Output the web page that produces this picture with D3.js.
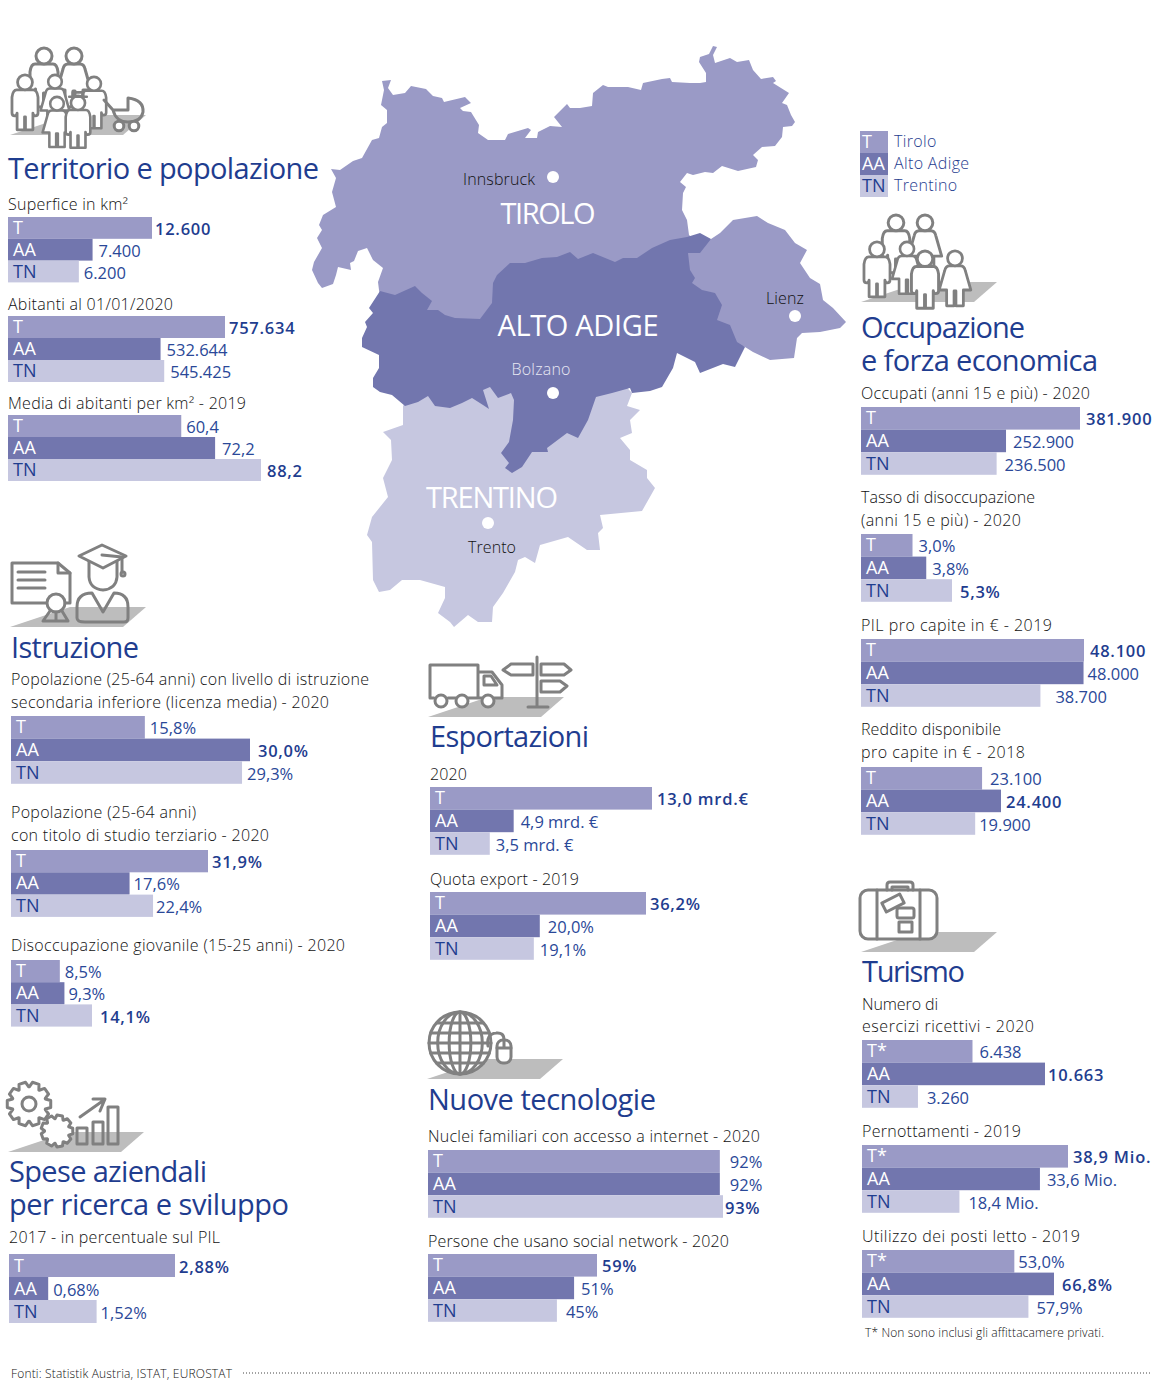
<!DOCTYPE html>
<html>
<head>
<meta charset="utf-8">
<script src="https://d3js.org/d3.v7.min.js"></script>
<style>
  html, body { margin: 0; background: #fff; }
  text { font-family: "Open Sans", sans-serif; }
  .head { font-size: 29px; font-weight: 500; fill: #1f3d8f; }
  .sub { font-size: 16px; font-weight: 300; fill: #111; }
  .val { font-size: 16.5px; font-weight: 400; fill: #2a4898; }
  .val.top { font-weight: 600; fill: #1f3d8f; letter-spacing: 0.75px; }
  .cat { font-size: 18px; font-weight: 400; }
  .small { font-size: 12px; font-weight: 300; fill: #111; }
  .mapbig { font-size: 29px; font-weight: 400; fill: #fff; text-anchor: middle; }
  .mapcity { font-size: 16px; font-weight: 300; fill: #111; text-anchor: middle; }
  .icon * { fill: none; stroke: #808080; stroke-width: 3; stroke-linejoin: round; stroke-linecap: round; }
  .icon .solid { fill: #fff; }
</style>
</head>
<body>
<svg id="chart" width="1170" height="1384"></svg>
<script>
"use strict";

var regions = ["T", "AA", "TN"];
var regionsStar = ["T*", "AA", "TN"];
var regionNames = ["Tirolo", "Alto Adige", "Trentino"];
var regionColors = ["#9a9ac6", "#7276ae", "#c6c7e0"];
var catColors = ["#fff", "#fff", "#1f3d8f"];

// bar values. In the licenza, terziario, quota and reddito
// panels the picture's bars do not match the printed figures, so they differ from the labels
var superficeValues = [12600, 7400, 6200];
var superficeLabels = ["12.600", "7.400", "6.200"];
var abitantiValues = [757634, 532644, 545425];
var abitantiLabels = ["757.634", "532.644", "545.425"];
var densitaValues = [60.4, 72.2, 88.2];
var densitaLabels = ["60,4", "72,2", "88,2"];
var licenzaValues = [16.8, 30.0, 29.0];
var licenzaLabels = ["15,8%", "30,0%", "29,3%"];
var terziarioValues = [31.9, 19.2, 23.0];
var terziarioLabels = ["31,9%", "17,6%", "22,4%"];
var giovanileValues = [8.5, 9.3, 14.1];
var giovanileLabels = ["8,5%", "9,3%", "14,1%"];
var ricercaValues = [2.88, 0.68, 1.52];
var ricercaLabels = ["2,88%", "0,68%", "1,52%"];
var exportValues = [13.0, 4.9, 3.5];
var exportLabels = ["13,0 mrd.€", "4,9 mrd. €", "3,5 mrd. €"];
var quotaValues = [36.2, 18.4, 17.4];
var quotaLabels = ["36,2%", "20,0%", "19,1%"];
var internetValues = [92, 92, 93];
var internetLabels = ["92%", "92%", "93%"];
var socialValues = [59, 51, 45];
var socialLabels = ["59%", "51%", "45%"];
var occupatiValues = [381900, 252900, 236500];
var occupatiLabels = ["381.900", "252.900", "236.500"];
var disoccValues = [3.0, 3.8, 5.3];
var disoccLabels = ["3,0%", "3,8%", "5,3%"];
var pilValues = [48100, 48000, 38700];
var pilLabels = ["48.100", "48.000", "38.700"];
var redditoValues = [21100, 24400, 19900];
var redditoLabels = ["23.100", "24.400", "19.900"];
var eserciziValues = [6438, 10663, 3260];
var eserciziLabels = ["6.438", "10.663", "3.260"];
var pernottValues = [38.9, 33.6, 18.4];
var pernottLabels = ["38,9 Mio.", "33,6 Mio.", "18,4 Mio."];
var lettoValues = [53.0, 66.8, 57.9];
var lettoLabels = ["53,0%", "66,8%", "57,9%"];

// map outlines, traced by hand; only the Alto Adige one carries the inner borders,
// the other three run underneath it
var tiroloOutline = [[379,290],[378,282],[383,268],[373,260],[367,248],[358,251],[354,261],[350,263],[351,270],[338,267],[336,275],[333,284],[322,288],[318,283],[312,270],[314,262],[322,248],[317,238],[322,230],[319,225],[323,215],[336,207],[332,192],[336,178],[331,169],[340,170],[353,161],[362,158],[372,140],[379,138],[382,127],[387,123],[387,110],[381,105],[384,90],[382,81],[391,80],[388,88],[393,95],[405,93],[411,86],[426,89],[433,96],[442,98],[444,102],[465,97],[471,103],[460,108],[463,111],[471,112],[479,125],[478,133],[488,140],[505,140],[508,134],[528,128],[531,130],[525,138],[537,138],[538,132],[550,126],[562,127],[554,117],[567,104],[570,108],[580,108],[592,106],[593,93],[603,85],[608,87],[618,87],[628,87],[641,90],[643,83],[662,79],[670,78],[672,82],[690,83],[700,83],[706,82],[706,73],[699,62],[700,57],[709,54],[713,46],[717,47],[713,55],[715,63],[730,58],[737,62],[749,60],[753,70],[761,79],[773,77],[776,81],[773,83],[789,93],[782,103],[787,105],[791,115],[795,122],[792,126],[783,127],[782,137],[775,146],[762,147],[753,155],[758,160],[756,167],[738,171],[722,166],[713,173],[705,172],[693,175],[687,173],[680,182],[686,187],[683,193],[682,210],[687,220],[689,235],[700,245],[560,300],[480,335],[440,335],[385,320]];
var osttirolOutline = [[711,239],[720,233],[733,220],[745,218],[757,216],[768,223],[785,230],[795,243],[807,250],[800,263],[810,278],[820,284],[823,300],[833,308],[846,322],[840,328],[820,332],[802,333],[797,338],[794,358],[770,360],[753,352],[745,347],[725,340],[700,310],[675,270],[680,255],[700,245]];
var altoAdigeOutline = [[380,291],[395,295],[415,286],[422,293],[432,301],[427,310],[438,310],[445,315],[455,318],[480,319],[492,303],[493,283],[497,275],[510,263],[525,263],[542,258],[557,257],[570,252],[578,259],[593,253],[615,262],[623,258],[637,258],[652,248],[670,240],[687,237],[700,233],[711,239],[700,253],[688,253],[690,270],[695,278],[692,283],[702,290],[715,293],[722,305],[717,320],[730,325],[737,342],[745,347],[735,367],[723,364],[700,373],[695,362],[677,353],[673,368],[662,387],[650,391],[632,393],[630,388],[612,393],[596,397],[588,420],[578,438],[567,433],[547,448],[548,452],[557,451],[548,452],[532,452],[522,467],[512,473],[505,468],[509,463],[501,453],[509,442],[513,420],[514,400],[511,393],[498,398],[490,387],[483,390],[489,409],[483,405],[472,398],[462,403],[450,408],[435,406],[428,396],[418,402],[405,406],[392,395],[380,392],[373,387],[373,378],[379,368],[379,355],[362,347],[362,338],[367,327],[365,322],[373,313],[369,308]];
var trentinoOutline = [[403,406],[403,425],[383,432],[391,440],[392,460],[383,478],[388,497],[372,517],[367,535],[372,542],[373,580],[379,592],[390,590],[402,580],[420,580],[445,587],[445,598],[438,613],[450,622],[454,627],[468,615],[478,622],[492,622],[493,607],[503,593],[515,572],[518,560],[525,557],[535,563],[540,545],[568,537],[587,550],[600,550],[598,533],[603,528],[600,515],[642,511],[655,488],[647,478],[647,470],[630,460],[630,450],[620,438],[632,433],[630,420],[640,410],[627,406],[632,393],[620,380],[500,375],[410,395]];

var cityNames = ["Innsbruck", "Lienz", "Bolzano", "Trento"];
var cityPoints = [[553,177],[795,316],[553,393],[488,523]];

var svg = d3.select("#chart");

var mapX = d3.scaleIdentity();
var mapY = d3.scaleIdentity();
var outline = d3.line()
  .x(function(d) { return mapX(d[0]); })
  .y(function(d) { return mapY(d[1]); })
  .curve(d3.curveLinearClosed);

// text, squeezed or stretched to the width it has in the picture
function label(x, y, str, cls, width) {
  var t = svg.append("text").attr("x", x).attr("y", y).attr("class", cls).text(str);
  if (width) t.attr("textLength", width).attr("lengthAdjust", "spacing");
  return t;
}

// same for a heading on two lines, kept as one text element
function label2(x, y, lines, cls, widths, leading) {
  var t = svg.append("text").attr("class", cls);
  lines.forEach(function(line, i) {
    t.append("tspan")
      .attr("x", x)
      .attr("y", y + i * leading)
      .attr("textLength", widths[i])
      .attr("lengthAdjust", "spacing")
      .text(line);
  });
}

function drawMap() {
  var g = svg.append("g");
  [[trentinoOutline, regionColors[2]], [tiroloOutline, regionColors[0]],
   [osttirolOutline, regionColors[0]], [altoAdigeOutline, regionColors[1]]].forEach(function(r) {
    g.append("path").attr("d", outline(r[0])).attr("fill", r[1]);
  });
  g.selectAll("circle").data(cityPoints).enter().append("circle")
    .attr("cx", function(d) { return mapX(d[0]); })
    .attr("cy", function(d) { return mapY(d[1]); })
    .attr("r", 6).attr("fill", "#fff");

  label(548, 224, "TIROLO", "mapbig", 95);
  label(578, 336, "ALTO ADIGE", "mapbig", 161);
  label(492, 508, "TRENTINO", "mapbig", 132);
  label(499, 185, cityNames[0], "mapcity", 72);
  label(785, 304, cityNames[1], "mapcity", 38);
  label(541, 375, cityNames[2], "mapcity", 59).style("fill", "#e8e8f3");
  label(492, 553, cityNames[3], "mapcity", 48);
}

function barPanel(p) {
  var g = svg.append("g");
  var x = d3.scaleLinear().domain([0, d3.max(p.values)]).range([p.x, p.x + p.width]);
  var y = d3.scaleBand().domain(d3.range(3)).range([p.top, p.top + 3 * (p.row || 22.6)]);
  var rows = g.selectAll("g").data(p.values).enter().append("g");

  rows.append("rect")
    .attr("x", p.x)
    .attr("y", function(d, i) { return y(i); })
    .attr("width", function(d) { return x(d) - p.x; })
    .attr("height", y.bandwidth())
    .attr("fill", function(d, i) { return regionColors[i]; });

  rows.append("text")
    .attr("class", "cat")
    .attr("x", p.x + 5)
    .attr("y", function(d, i) { return y(i) + y.bandwidth() / 2 + 6; })
    .attr("fill", function(d, i) { return catColors[i]; })
    .text(function(d, i) { return (p.cats || regions)[i]; });

  rows.append("text")
    .attr("class", function(d) { return d === d3.max(p.values) ? "val top" : "val"; })
    .attr("x", function(d, i) { return x(d) + p.gaps[i]; })
    .attr("y", function(d, i) { return y(i) + y.bandwidth() / 2 + 7; })
    .text(function(d, i) { return p.labels[i]; });
}

function shadow(x, y) {
  svg.append("path")
    .attr("d", d3.line()([[x, y + 20], [x + 60, y], [x + 136, y], [x + 113, y + 20]]) + "Z")
    .attr("fill", "#bdbdbd");
}

function icon() { return svg.append("g").attr("class", "icon"); }

var manBody = "M-9,17 Q-13,17 -14,25 V42 Q-14,45 -11,45 Q-9,45 -8.5,42 V60 H-0.5 V46 H0.5 V60 H8.5 V42 Q9,45 11,45 Q14,45 14,42 V25 Q13,17 9,17 Z";
var womanBody = "M-6,17 Q-10,17 -11,22 L-17,43 H-9 V60 H-1 V44 H1 V60 H9 V43 H17 L11,22 Q10,17 6,17 Z";

function person(g, cx, top, k, body) {
  var p = g.append("g").attr("transform", "translate(" + cx + "," + top + ") scale(" + k + ")");
  p.append("path").attr("class", "solid").attr("d", body);
  p.append("circle").attr("class", "solid").attr("cx", 0).attr("cy", 9).attr("r", 8);
  return p;
}

function familyIcon() {
  var g = icon();
  person(g, 44, 47, 1, manBody);
  person(g, 74, 47, 1, womanBody);
  person(g, 25, 74, 0.93, manBody);
  person(g, 55, 74, 0.85, womanBody);
  person(g, 94, 76, 0.87, manBody);
  person(g, 57, 96, 0.85, womanBody);
  var m = person(g, 78, 95, 0.88, manBody);
  m.append("path").attr("d", "M-10,2 H10 M-6,2 V-3 H6 V2");
  g.append("path").attr("d", "M104,100 L113,110 H128 V98 Q144,100 143,112 Q141,122 128,122 Q116,122 113,110");
  g.append("circle").attr("class", "solid").attr("cx", 119).attr("cy", 126).attr("r", 4.8);
  g.append("circle").attr("class", "solid").attr("cx", 134).attr("cy", 126).attr("r", 4.8);
}

function workersIcon() {
  var g = icon();
  person(g, 896, 214, 0.98, manBody);
  person(g, 925, 214, 0.98, womanBody);
  person(g, 877, 241, 0.93, manBody);
  person(g, 907, 241, 0.88, womanBody);
  person(g, 925, 250, 0.97, manBody);
  person(g, 955, 250, 0.93, womanBody);
}

function educationIcon() {
  var g = icon();
  g.append("path").attr("d", "M46,603 H12 V563 H58 L70,573 V603 H65");
  g.append("path").attr("d", "M58,563 V573 H70");
  g.append("path").attr("d", "M18,572 H45 M18,580 H45 M18,588 H45");
  g.append("circle").attr("cx", 56).attr("cy", 603).attr("r", 9);
  g.append("path").attr("d", "M50,611 L43,621 H68 L62,611 M56,612 V621");
  g.append("path").attr("d", "M85,622 H124 Q128,622 128,618 V607 Q128,593 114,593 L103,612 L92,593 Q77,593 77,607 V618 Q77,622 85,622 Z");
  g.append("path").attr("d", "M89,560 V577 Q90,589 103,590 Q116,589 117,577 V560");
  g.append("path").attr("class", "solid").attr("d", "M102,545 L126,556 L103,568 L79,556 Z");
  g.append("path").attr("d", "M102,555 L122,557 V572");
  g.append("circle").attr("cx", 123).attr("cy", 574).attr("r", 2);
}

function exportIcon() {
  var g = icon();
  g.append("path").attr("d", "M434,698 H430 V665 H478 V698 H482 M448,698 H456 M468,698 H482 M494,698 H502 V685 L492,672 H478");
  g.append("path").attr("d", "M484,676 H491 L497,685 H484 Z");
  [441, 462, 488].forEach(function(cx) {
    g.append("circle").attr("class", "solid").attr("cx", cx).attr("cy", 701).attr("r", 6);
  });
  g.append("path").attr("d", "M537,657 V706 M528,707 H548");
  g.append("path").attr("d", "M503,670 L511,664 H533 V675 H511 Z M541,664 H564 L571,670 L564,675 H541 Z M541,681 H560 L567,686 L560,692 H541 Z");
}

function gear(g, cx, cy, r, teeth) {
  var pts = [];
  d3.range(teeth).forEach(function(i) {
    var a = i / teeth * 2 * Math.PI, s = Math.PI / teeth;
    [[r * 0.78, -s * 0.95], [r, -s * 0.5], [r, s * 0.5], [r * 0.78, s * 0.95]].forEach(function(q) {
      pts.push([cx + q[0] * Math.cos(a + q[1]), cy + q[0] * Math.sin(a + q[1])]);
    });
  });
  g.append("path").attr("class", "solid").attr("d", d3.line()(pts) + "Z");
}

function researchIcon() {
  var g = icon();
  gear(g, 29, 1104, 22, 10);
  g.append("circle").attr("cx", 29).attr("cy", 1104).attr("r", 7);
  gear(g, 57, 1131, 16, 9);
  g.append("rect").attr("x", 77).attr("y", 1128).attr("width", 10).attr("height", 16);
  g.append("rect").attr("x", 93).attr("y", 1122).attr("width", 10).attr("height", 22);
  g.append("rect").attr("x", 108).attr("y", 1107).attr("width", 10).attr("height", 37);
  g.append("path").attr("d", "M80,1117 L104,1100 M93,1099 H105 L100,1111");
}

function techIcon() {
  var g = icon();
  var cx = 460, cy = 1043, r = 31;
  g.append("circle").attr("class", "solid").attr("cx", cx).attr("cy", cy).attr("r", r);
  [0.35, 0.72].forEach(function(k) {
    g.append("ellipse").attr("cx", cx).attr("cy", cy).attr("rx", r * k).attr("ry", r);
  });
  g.append("path").attr("d", "M" + cx + "," + (cy - r) + " V" + (cy + r));
  [-20, -10, 0, 10, 20].forEach(function(dy) {
    var half = Math.sqrt(r * r - dy * dy);
    g.append("path").attr("d", "M" + (cx - half) + "," + (cy + dy) + " H" + (cx + half));
  });
  g.append("rect").attr("class", "solid").attr("x", 497).attr("y", 1040).attr("width", 14).attr("height", 23).attr("rx", 6);
  g.append("path").attr("d", "M504,1040 V1048 M497,1048 H511 M488,1046 Q486,1034 496,1033 Q504,1032 504,1040");
}

function suitcaseIcon() {
  var g = icon();
  g.append("rect").attr("class", "solid").attr("x", 860).attr("y", 890).attr("width", 77).attr("height", 49).attr("rx", 8);
  g.append("path").attr("d", "M877,890 V939 M920,890 V939 M887,890 V885 Q887,882 890,882 H910 Q913,882 913,885 V890 M892,890 V887 H908 V890");
  g.append("rect").attr("x", -10).attr("y", -5).attr("width", 20).attr("height", 10).attr("transform", "translate(893,903) rotate(-27)");
  g.append("rect").attr("class", "solid").attr("x", 897).attr("y", 908).attr("width", 17).attr("height", 10).attr("rx", 2);
  g.append("rect").attr("x", 899).attr("y", 922).attr("width", 13).attr("height", 10);
}

// icons
shadow(10, 115); shadow(861, 282); shadow(10, 607); shadow(428, 697);
shadow(8, 1132); shadow(427, 1059); shadow(861, 932);
familyIcon(); workersIcon(); educationIcon(); exportIcon();
researchIcon(); techIcon(); suitcaseIcon();

drawMap();

// legend
var legendY = d3.scaleBand().domain(d3.range(3)).range([131, 197]);
svg.selectAll(".legend").data(regions).enter().append("rect")
  .attr("class", "legend")
  .attr("x", 860).attr("width", 28)
  .attr("y", function(d, i) { return legendY(i); })
  .attr("height", legendY.bandwidth())
  .attr("fill", function(d, i) { return regionColors[i]; });
svg.selectAll(".legendcat").data(regions).enter().append("text")
  .attr("class", "cat legendcat")
  .attr("x", 862)
  .attr("y", function(d, i) { return legendY(i) + 17; })
  .attr("fill", function(d, i) { return catColors[i]; })
  .text(function(d) { return d; });
svg.selectAll(".legendname").data(regionNames).enter().append("text")
  .attr("class", "sub legendname")
  .style("fill", "#1f3d8f")
  .style("letter-spacing", "0.35px")
  .attr("x", 894)
  .attr("y", function(d, i) { return legendY(i) + 16; })
  .text(function(d) { return d; });

// section titles
[["Territorio e popolazione", 8, 179, 311],
 ["Istruzione", 11, 658, 128],
 ["Esportazioni", 430, 747, 159],
 ["Nuove tecnologie", 428, 1110, 228],
 ["Turismo", 862, 982, 103]].forEach(function(h) { label(h[1], h[2], h[0], "head", h[3]); });
label2(9, 1182, ["Spese aziendali", "per ricerca e sviluppo"], "head", [198, 280], 33);
label2(861, 338, ["Occupazione", "e forza economica"], "head", [164, 237], 33);

// panel captions
[["Superfice in km²", 8, 210, 120],
 ["Abitanti al 01/01/2020", 8, 310, 165],
 ["Media di abitanti per km² - 2019", 8, 409, 238],
 ["Popolazione (25-64 anni) con livello di istruzione", 11, 685, 358],
 ["secondaria inferiore (licenza media)  - 2020", 11, 708, 318],
 ["Popolazione (25-64 anni)", 11, 818, 185],
 ["con titolo di studio terziario - 2020", 11, 841, 258],
 ["Disoccupazione giovanile (15-25 anni) - 2020", 11, 951, 334],
 ["2017 - in percentuale sul PIL", 9, 1243, 211],
 ["2020", 430, 780, 37],
 ["Quota export - 2019", 430, 885, 149],
 ["Nuclei familiari con accesso a internet - 2020", 428, 1142, 332],
 ["Persone che usano social network - 2020", 428, 1247, 301],
 ["Occupati (anni 15 e più) - 2020", 861, 399, 229],
 ["Tasso di disoccupazione", 861, 503, 174],
 ["(anni 15 e più) - 2020", 861, 526, 160],
 ["PIL pro capite in € - 2019", 861, 631, 191],
 ["Reddito disponibile", 861, 735, 140],
 ["pro capite in € - 2018", 861, 758, 164],
 ["Numero di", 862, 1010, 76],
 ["esercizi ricettivi  - 2020", 862, 1032, 172],
 ["Pernottamenti - 2019", 862, 1137, 159],
 ["Utilizzo dei posti letto  - 2019", 862, 1242, 218]].forEach(function(c) { label(c[1], c[2], c[0], "sub", c[3]); });

// bar panels
[
  { values: superficeValues, labels: superficeLabels, x: 8, top: 217, row: 21.8, width: 144, gaps: [3, 6, 5] },
  { values: abitantiValues, labels: abitantiLabels, x: 8, top: 316, row: 22, width: 217, gaps: [4, 6, 6] },
  { values: densitaValues, labels: densitaLabels, x: 8, top: 415, row: 22, width: 253, gaps: [5, 7, 6] },
  { values: licenzaValues, labels: licenzaLabels, x: 11, top: 716, width: 239, gaps: [5, 8, 5] },
  { values: terziarioValues, labels: terziarioLabels, x: 11, top: 850, row: 22.3, width: 197, gaps: [4, 4, 3] },
  { values: giovanileValues, labels: giovanileLabels, x: 11, top: 960, row: 22.2, width: 81, gaps: [5, 4, 8] },
  { values: ricercaValues, labels: ricercaLabels, x: 9, top: 1254, row: 23, width: 166, gaps: [4, 5, 4] },
  { values: exportValues, labels: exportLabels, x: 430, top: 787, width: 222, gaps: [5, 7, 6] },
  { values: quotaValues, labels: quotaLabels, x: 430, top: 892, width: 216, gaps: [4, 8, 6] },
  { values: internetValues, labels: internetLabels, x: 428, top: 1150, width: 295, gaps: [10, 10, 2] },
  { values: socialValues, labels: socialLabels, x: 428, top: 1254, width: 169, gaps: [5, 7, 9] },
  { values: occupatiValues, labels: occupatiLabels, x: 861, top: 407, width: 219, gaps: [6, 7, 8] },
  { values: disoccValues, labels: disoccLabels, x: 861, top: 534, width: 91, gaps: [6, 6, 8] },
  { values: pilValues, labels: pilLabels, x: 861, top: 639, width: 223, gaps: [6, 4, 15] },
  { values: redditoValues, labels: redditoLabels, x: 861, top: 767, width: 140, gaps: [8, 5, 4] },
  { values: eserciziValues, labels: eserciziLabels, cats: regionsStar, x: 862, top: 1040, width: 183, gaps: [7, 3, 9] },
  { values: pernottValues, labels: pernottLabels, cats: regionsStar, x: 862, top: 1145, width: 206, gaps: [5, 7, 9] },
  { values: lettoValues, labels: lettoLabels, cats: regionsStar, x: 862, top: 1250, width: 192, gaps: [4, 8, 8] }
].forEach(barPanel);

// footer
label(865, 1337, "T* Non sono inclusi gli affittacamere privati.", "small", 239);
label(11, 1378, "Fonti: Statistik Austria, ISTAT, EUROSTAT", "small", 221);
svg.append("line")
  .attr("x1", 243).attr("x2", 1152).attr("y1", 1373).attr("y2", 1373)
  .attr("stroke", "#444").attr("stroke-width", 1).attr("stroke-dasharray", "1 2");
</script>
</body>
</html>
